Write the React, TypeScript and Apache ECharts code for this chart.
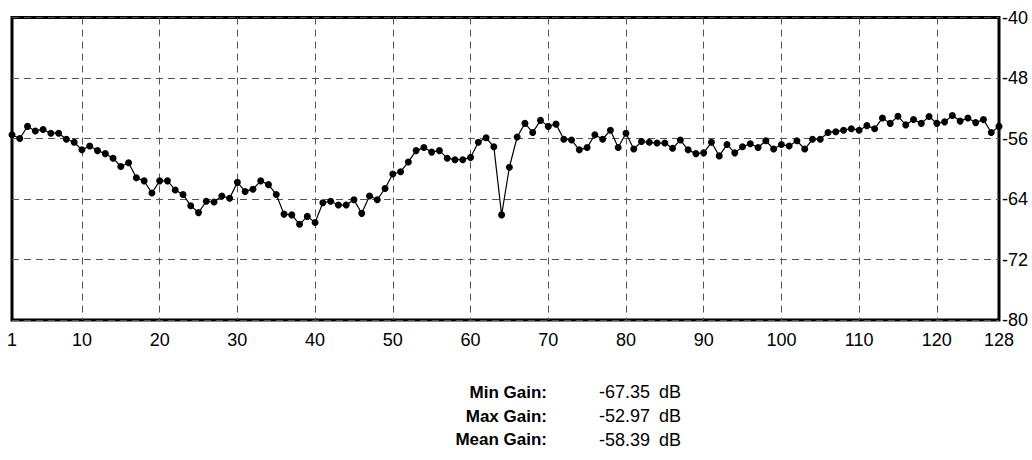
import React, { useEffect, useRef } from "react";
import * as echarts from "echarts";

const channels: string[] = Array.from({ length: 128 }, (_, i) => String(i + 1));

const gainDb: number[] = [
  -55.5, -56.0, -54.4, -55.0, -54.8, -55.3, -55.3, -56.1, -56.5, -57.5,
  -57.0, -57.6, -58.0, -58.6, -59.7, -59.2, -61.2, -61.6, -63.2, -61.6,
  -61.6, -62.8, -63.4, -64.9, -65.8, -64.3, -64.4, -63.6, -63.9, -61.8,
  -63.0, -62.7, -61.6, -62.1, -63.4, -66.0, -66.1, -67.35, -66.3, -67.1,
  -64.5, -64.3, -64.8, -64.8, -64.1, -65.9, -63.6, -64.1, -62.6, -60.7,
  -60.4, -59.1, -57.6, -57.2, -57.8, -57.6, -58.6, -58.8, -58.8, -58.5,
  -56.5, -55.9, -57.1, -66.1, -59.8, -55.8, -54.0, -55.2, -53.6, -54.4,
  -54.1, -56.1, -56.2, -57.5, -57.2, -55.5, -56.1, -54.9, -57.2, -55.3,
  -57.4, -56.4, -56.5, -56.6, -56.6, -57.3, -56.2, -57.5, -58.0, -57.9,
  -56.5, -58.3, -56.8, -57.9, -57.1, -56.7, -57.2, -56.3, -57.4, -56.8,
  -57.0, -56.3, -57.4, -56.1, -56.1, -55.2, -55.1, -54.9, -54.7, -54.9,
  -54.3, -54.7, -53.3, -54.0, -53.05, -54.2, -53.5, -54.0, -53.1, -54.0,
  -53.8, -52.97, -53.7, -53.3, -53.9, -53.5, -55.2, -54.4,
];

const statLabels: string[] = ["Min Gain:", "Max Gain:", "Mean Gain:"];
const statValues: string[] = ["-67.35", "-52.97", "-58.39"];
const statUnit = "dB";

const FONT = 'Arial, "Liberation Sans", sans-serif';

export default function App() {
  const ref = useRef<HTMLDivElement>(null);

  useEffect(() => {
    document.body.style.margin = "0";
    if (!ref.current) return;
    const chart = echarts.init(ref.current, undefined, { renderer: "svg" });

    const rowY = [392, 416, 439.5];
    const graphics: any[] = [];
    statLabels.forEach((label, i) => {
      graphics.push({
        type: "text",
        x: 547,
        y: rowY[i],
        style: {
          text: label,
          fill: "#000",
          font: `bold 17px ${FONT}`,
          align: "right",
          verticalAlign: "middle",
        },
      });
      graphics.push({
        type: "text",
        x: 650,
        y: rowY[i],
        style: {
          text: statValues[i],
          fill: "#000",
          font: `18px ${FONT}`,
          align: "right",
          verticalAlign: "middle",
        },
      });
      graphics.push({
        type: "text",
        x: 659,
        y: rowY[i],
        style: {
          text: statUnit,
          fill: "#000",
          font: `18px ${FONT}`,
          align: "left",
          verticalAlign: "middle",
        },
      });
    });

    chart.setOption({
      animation: false,
      backgroundColor: "#fff",
      grid: {
        left: 12,
        right: 33,
        top: 17.5,
        bottom: 140,
        show: true,
        borderColor: "#000",
        borderWidth: 3,
        backgroundColor: "transparent",
      },
      xAxis: {
        type: "category",
        data: channels,
        boundaryGap: false,
        axisLine: { show: false },
        axisTick: { show: false },
        axisLabel: {
          interval: (index: number) => index === 0 || (index + 1) % 10 === 0 || index === 127,
          color: "#000",
          fontSize: 18,
          fontFamily: FONT,
          margin: 11,
        },
        splitLine: {
          show: true,
          interval: (index: number) => (index + 1) % 10 === 0 && index !== 127,
          lineStyle: { color: "#555", width: 1, type: [7, 5] },
        },
      },
      yAxis: {
        type: "value",
        position: "right",
        min: -80,
        max: -40,
        interval: 8,
        axisLine: { show: false },
        axisTick: { show: false },
        axisLabel: {
          color: "#000",
          fontSize: 18,
          fontFamily: FONT,
          margin: 3,
        },
        splitLine: {
          show: true,
          lineStyle: { color: "#555", width: 1, type: [7, 5] },
        },
      },
      series: [
        {
          type: "line",
          data: gainDb,
          symbol: "circle",
          symbolSize: 7,
          showSymbol: true,
          showAllSymbol: true,
          itemStyle: { color: "#000" },
          lineStyle: { color: "#000", width: 1.2 },
        },
      ],
      graphic: graphics,
    });

    return () => chart.dispose();
  }, []);

  return <div ref={ref} style={{ width: 1032, height: 460 }} />;
}
